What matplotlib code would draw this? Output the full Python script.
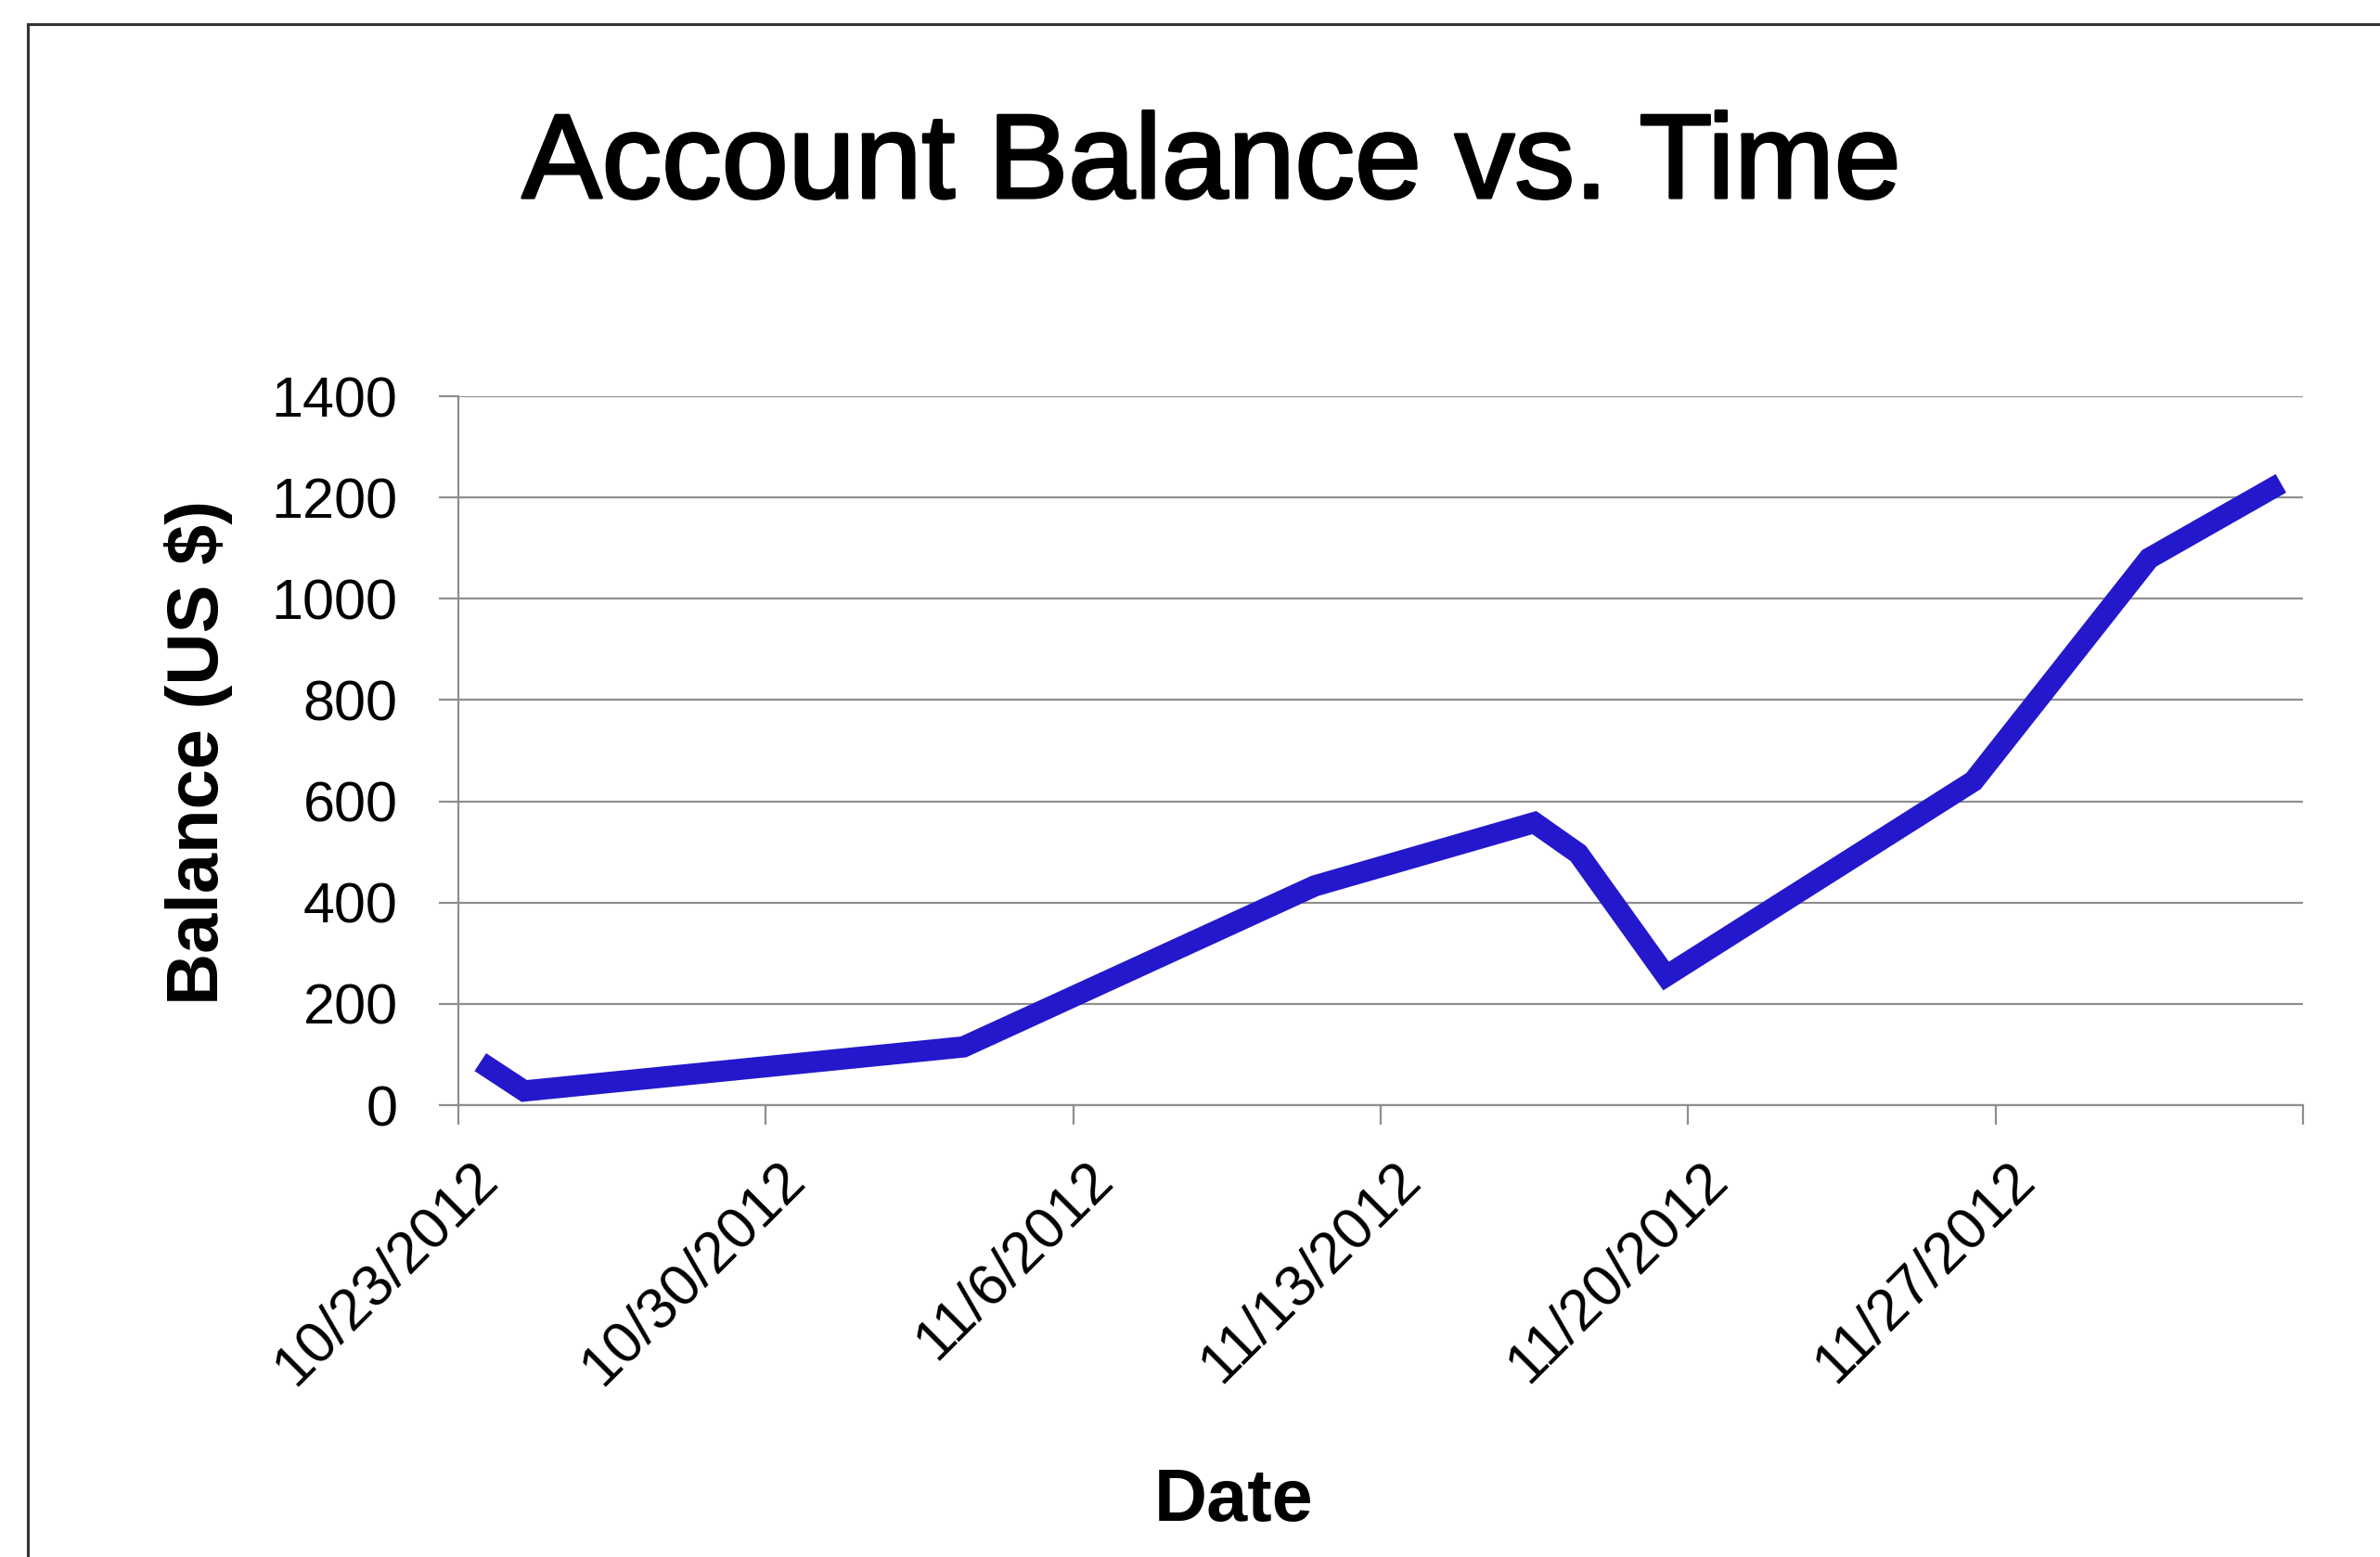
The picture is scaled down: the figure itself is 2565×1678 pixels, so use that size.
import matplotlib
matplotlib.use("Agg")
import matplotlib.pyplot as plt
import matplotlib.dates as mdates
import matplotlib.patheffects as pe
from matplotlib.lines import Line2D
from matplotlib.transforms import ScaledTranslation

# data
dates = ["2012-10-23", "2012-10-24", "2012-11-03", "2012-11-11", "2012-11-16",
         "2012-11-17", "2012-11-19", "2012-11-26", "2012-11-30", "2012-12-03"]
balance = [85, 28, 115, 433, 558, 497, 255, 640, 1080, 1228]

tick_dates = ["2012-10-23", "2012-10-30", "2012-11-06", "2012-11-13",
              "2012-11-20", "2012-11-27", "2012-12-04"]
tick_labels = ["10/23/2012", "10/30/2012", "11/6/2012", "11/13/2012",
               "11/20/2012", "11/27/2012", ""]
y_ticks = [0, 200, 400, 600, 800, 1000, 1200, 1400]

plt.rcParams["font.family"] = ["Liberation Sans", "DejaVu Sans"]

GRID = "#8e8e8e"
LINE = "#2418cc"

# points sit in the middle of their day, as in a spreadsheet date axis
x = mdates.datestr2num(dates) + 0.5
xt = mdates.datestr2num(tick_dates)

fig = plt.figure(figsize=(25.65, 16.78), dpi=100)
ax = fig.add_axes([0.1926, 0.2902, 0.7750, 0.4553])

ax.plot(x, balance, color=LINE, lw=16.5, solid_joinstyle="miter",
        solid_capstyle="butt", zorder=3, clip_on=False)

ax.set_xlim(xt[0], xt[-1])
ax.set_ylim(0, 1400)
ax.set_yticks(y_ticks)
ax.set_xticks(xt)
ax.set_xticklabels(tick_labels)

ax.grid(axis="y", color=GRID, lw=1.6)
ax.set_axisbelow(True)
for s in ["top", "right"]:
    ax.spines[s].set_visible(False)
for s in ["left", "bottom"]:
    ax.spines[s].set_color(GRID)
    ax.spines[s].set_linewidth(1.6)

ax.tick_params(axis="y", length=15, width=1.6, color=GRID, pad=32, labelsize=44)
ax.tick_params(axis="x", length=15, width=1.6, color=GRID, pad=21, labelsize=45)

shift = ScaledTranslation(0.12, 0, fig.dpi_scale_trans)
for lab in ax.get_xticklabels():
    lab.set_rotation(45)
    lab.set_rotation_mode("anchor")
    lab.set_ha("right")
    lab.set_va("top")
    lab.set_transform(lab.get_transform() + shift)

fig.text(0.509, 0.873, "Account Balance vs. Time", ha="center", va="baseline",
         fontsize=93,
         path_effects=[pe.withStroke(linewidth=2.2, foreground="black")])
fig.text(0.0834, 0.517, "Balance (US $)", rotation=90, ha="center", va="center",
         fontsize=56, fontweight="bold")
fig.text(0.5185, 0.0233, "Date", ha="center", va="baseline",
         fontsize=57, fontweight="bold")

# frame around the chart area (runs off the right and bottom edges)
bx = 30 / 2565
by = 1 - 26 / 1678
fig.add_artist(Line2D([bx, 1.0], [by, by], color="#333333", lw=2.2,
                      transform=fig.transFigure))
fig.add_artist(Line2D([bx, bx], [0.0, by], color="#333333", lw=2.2,
                      transform=fig.transFigure))

fig.savefig("out.png", dpi=100, facecolor="white")
